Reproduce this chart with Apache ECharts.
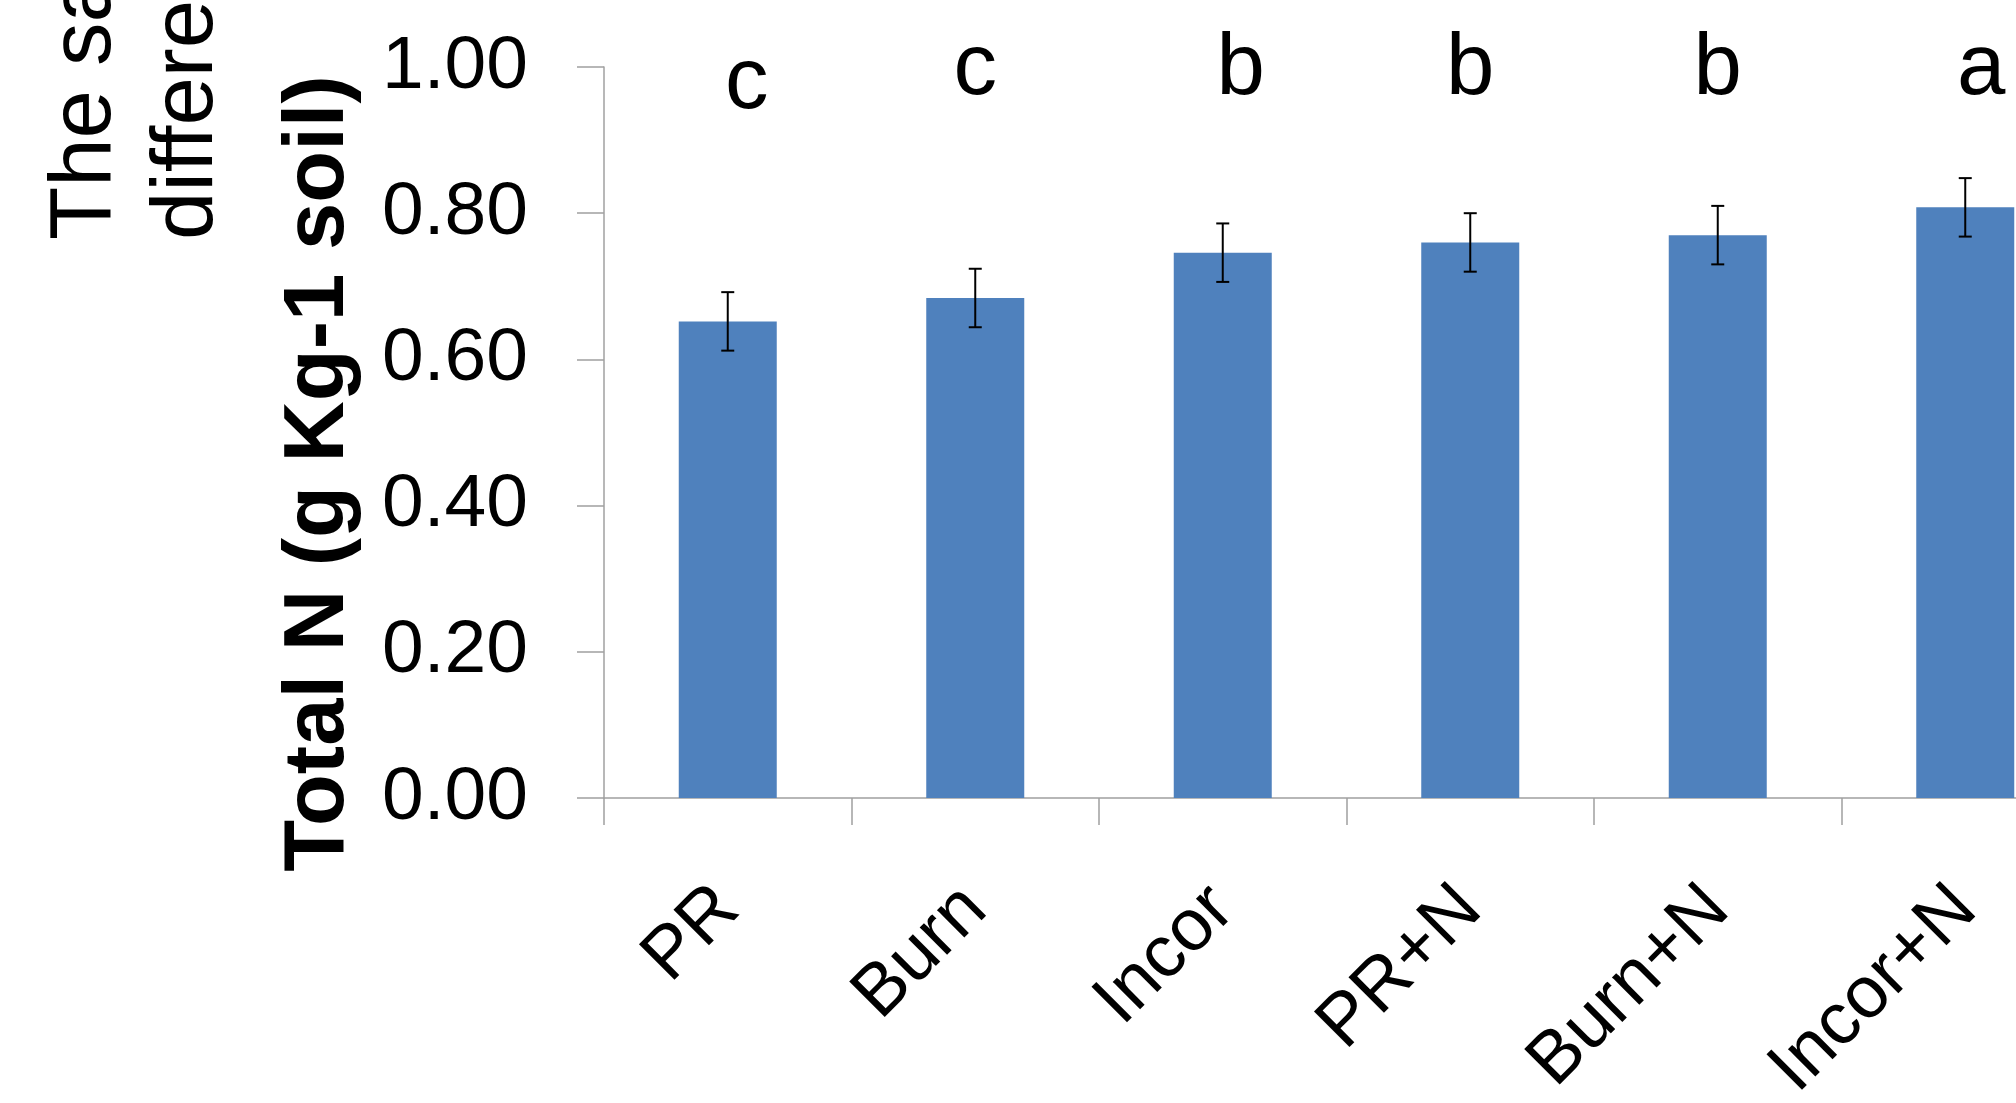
<!DOCTYPE html>
<html>
<head>
<meta charset="utf-8">
<script src="https://cdn.jsdelivr.net/npm/echarts@6/dist/echarts.min.js"></script>
<style>
html,body{margin:0;padding:0;background:#fff;overflow:hidden;width:2016px;height:1103px;}
#chart{width:2100px;height:1103px;}
</style>
</head>
<body>
<div id="chart"></div>
<script>
// ---- data ----
const categories = ['PR', 'Burn', 'Incor', 'PR+N', 'Burn+N', 'Incor+N'];
const totalN = [0.652, 0.684, 0.746, 0.760, 0.770, 0.808];
const stdErr = [0.040, 0.040, 0.040, 0.040, 0.040, 0.040];
const letters = ['c', 'c', 'b', 'b', 'b', 'a'];
const yMin = 0, yMax = 1, yInterval = 0.2;
const yAxisName = 'Total N (g Kg-1 soil)';
const sideTextLines = ['The sa', 'differe'];

// ---- styles (not data) ----
const letterOffsets = [[19, 17], [0, 3], [18, 3], [0, 3], [0, 3], [16, 3]];
const axisGray = '#a0a0a0';
const font = '"Liberation Sans", Arial, sans-serif';

const chart = echarts.init(document.getElementById('chart'));
chart.setOption({
  backgroundColor: '#ffffff',
  animation: false,
  grid: { left: 604, top: 67, height: 731, width: 1485, containLabel: false, outerBoundsMode: 'none' },
  xAxis: {
    type: 'category',
    data: categories,
    boundaryGap: true,
    axisLine: { show: true, lineStyle: { color: axisGray, width: 1.5 } },
    axisTick: { show: true, length: 27, lineStyle: { color: axisGray, width: 1.5 } },
    axisLabel: { rotate: 45, margin: 100, fontSize: 73, fontFamily: font, color: '#000', interval: 0 },
    splitLine: { show: false }
  },
  yAxis: {
    type: 'value',
    min: yMin, max: yMax, interval: yInterval,
    name: yAxisName,
    nameLocation: 'middle',
    nameGap: 242,
    nameTextStyle: { fontSize: 85, fontWeight: 'bold', fontFamily: font, color: '#000', padding: [0, 82, 0, 0] },
    axisLine: { show: true, lineStyle: { color: axisGray, width: 1.5 } },
    axisTick: { show: true, length: 27, lineStyle: { color: axisGray, width: 1.5 } },
    axisLabel: { margin: 76, fontSize: 75, fontFamily: font, color: '#000', formatter: v => v.toFixed(2) },
    splitLine: { show: false }
  },
  series: [
    {
      type: 'bar',
      data: totalN,
      barWidth: 98,
      itemStyle: { color: '#4f81bd' },
      z: 2
    },
    {
      type: 'custom',
      data: categories.map((c, i) => [i, totalN[i] + stdErr[i], totalN[i] - stdErr[i]]),
      encode: { x: 0, y: [1, 2] },
      z: 5,
      renderItem: function (params, api) {
        const i = api.value(0);
        const hi = api.coord([i, api.value(1)]);
        const lo = api.coord([i, api.value(2)]);
        const w = 6.5;
        const st = { stroke: '#000', lineWidth: 2 };
        return {
          type: 'group',
          children: [
            { type: 'line', shape: { x1: hi[0], y1: hi[1], x2: lo[0], y2: lo[1] }, style: st },
            { type: 'line', shape: { x1: hi[0] - w, y1: hi[1], x2: hi[0] + w, y2: hi[1] }, style: st },
            { type: 'line', shape: { x1: lo[0] - w, y1: lo[1], x2: lo[0] + w, y2: lo[1] }, style: st }
          ]
        };
      }
    },
    {
      type: 'custom',
      clip: false,
      z: 6,
      data: categories.map((c, i) => [i, yMax]),
      encode: { x: 0, y: 1 },
      renderItem: function (params, api) {
        const i = params.dataIndex;
        const p = api.coord([api.value(0), api.value(1)]);
        const off = letterOffsets[i];
        return {
          type: 'text',
          x: p[0] + off[0],
          y: p[1] + off[1],
          style: {
            text: letters[i],
            fontSize: 87,
            fontFamily: font,
            fill: '#000',
            align: 'center',
            verticalAlign: 'middle'
          }
        };
      }
    }
  ],
  graphic: sideTextLines.map((t, k) => ({
    type: 'text',
    x: [86, 188][k],
    y: 240,
    rotation: Math.PI / 2,
    style: {
      text: t,
      fontSize: 87,
      fontFamily: font,
      fill: '#000',
      align: 'left',
      verticalAlign: 'middle',
      textAlign: 'left',
      textVerticalAlign: 'middle'
    }
  }))
});
</script>
</body>
</html>
